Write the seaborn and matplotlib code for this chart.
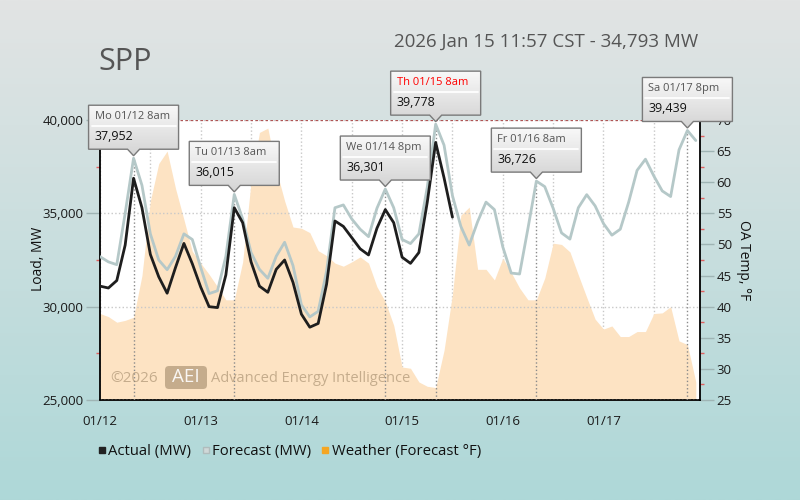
import numpy as np
import pandas as pd
import seaborn as sns
import matplotlib.pyplot as plt
from matplotlib.lines import Line2D
from matplotlib.patches import Polygon, FancyBboxPatch
from matplotlib.ticker import FuncFormatter, MultipleLocator

# values, x = hours since 01/12 00:00
fc_hours = list(range(0, 144, 2))
forecast_mw = [
    32680, 32400, 32250, 35000, 37952, 36500, 33900, 32500, 31980, 32700, 33900, 33600,
    32100, 30700, 30850, 32700, 36015, 34700, 32900, 32000, 31520, 32700, 33450, 32200,
    30100, 29450, 29750, 31900, 35300, 35450, 34700, 34150, 33750, 35270, 36301, 35300,
    33600, 33380, 33900, 36400, 39778, 38650, 35950, 34300, 33300, 34550, 35600, 35200,
    33200, 31800, 31750, 34200, 36726, 36430, 35270, 33950, 33620, 35300, 36000, 35400,
    34450, 33830, 34150, 35600, 37300, 37900, 37000, 36200, 35900, 38400, 39439, 38900,
]
act_hours = list(range(0, 86, 2))
actual_mw = [
    31100, 31000, 31400, 33300, 36880, 35300, 32800, 31600, 30720, 32100, 33390, 32300,
    31050, 30000, 29950, 31700, 35300, 34500, 32400, 31100, 30770, 32000, 32500, 31300,
    29600, 28900, 29100, 31200, 34590, 34300, 33700, 33100, 32770, 34200, 35200, 34500,
    32650, 32320, 32900, 35600, 38800, 36900, 34793,
]
wx_hours = list(range(0, 144, 2))
weather_f = [
    38.9, 38.4, 37.5, 37.8, 38.3, 45.0, 57.0, 63.0, 65.0, 59.0, 54.0, 48.9,
    47.0, 45.2, 43.2, 41.1, 41.1, 47.2, 60.0, 68.0, 68.7, 62.0, 57.0, 52.8,
    52.6, 51.9, 49.0, 48.2, 47.0, 46.5, 47.2, 48.0, 47.0, 43.2, 40.8, 37.0,
    30.3, 30.1, 27.9, 27.2, 27.0, 33.0, 42.0, 54.7, 56.0, 46.0, 46.0, 44.3,
    47.8, 45.5, 43.0, 41.1, 41.1, 44.6, 50.2, 50.0, 48.8, 45.1, 41.5, 38.0,
    36.4, 36.9, 35.2, 35.2, 36.0, 36.0, 38.9, 39.0, 40.0, 34.5, 33.9, 27.9,
]

peak_hours = [8, 32, 68, 80, 104, 140]
peak_mw = [37952, 36015, 36301, 39778, 36726, 39439]
peak_labels = ["Mo 01/12 8am", "Tu 01/13 8am", "We 01/14 8pm",
               "Th 01/15 8am", "Fr 01/16 8am", "Sa 01/17 8pm"]
today = "01/15"
day_ticks = [0, 24, 48, 72, 96, 120]
day_labels = ["01/12", "01/13", "01/14", "01/15", "01/16", "01/17"]

sns.set_theme(style="white")
plt.rcParams["font.family"] = ["Open Sans", "DejaVu Sans"]

fig = plt.figure(figsize=(8, 5), dpi=100)

# page background gradient
bg = fig.add_axes([0, 0, 1, 1], zorder=-10)
c_top = np.array([226, 228, 228]) / 255
c_bot = np.array([174, 216, 216]) / 255
t = np.linspace(0, 1, 256)[:, None]
bg.imshow((c_top * (1 - t) + c_bot * t)[:, None, :], aspect="auto", extent=[0, 1, 0, 1])
bg.axis("off")

# weather axes (right) underneath, load axes (left) on top
ax_w = fig.add_axes([0.125, 0.2, 0.75, 0.56])
ax_l = ax_w.twinx()
ax_w.set_facecolor("white")
ax_w.yaxis.tick_right()
ax_w.yaxis.set_label_position("right")
ax_l.yaxis.tick_left()
ax_l.yaxis.set_label_position("left")

ax_w.fill_between(wx_hours, weather_f, 25, color="#fde3c3", lw=0, zorder=2)
ax_w.set_xlim(0, 143)
ax_w.set_ylim(25, 70)
ax_w.set_xticks(day_ticks, day_labels)
ax_w.xaxis.set_minor_locator(MultipleLocator(12))
ax_w.set_yticks(range(25, 75, 5))
ax_w.yaxis.set_minor_locator(MultipleLocator(2.5))
ax_w.grid(axis="x", which="both", color="#c8c8c8", ls=":", lw=1)
ax_w.set_axisbelow(True)
ax_w.tick_params(axis="x", which="both", length=10, width=1, color="#9fb4b4",
                 labelsize=9.5, labelcolor="#1a1a1a", pad=1)
ax_w.tick_params(axis="y", which="major", length=10, width=1, color="#9fb4b4",
                 labelsize=9.5, labelcolor="#1a1a1a", pad=2)
ax_w.tick_params(axis="y", which="minor", length=3, width=1, color="#e06060")

ax_l.set_ylim(25000, 40000)
ax_l.set_yticks(range(25000, 40001, 5000))
ax_l.yaxis.set_major_formatter(FuncFormatter(lambda v, _: f"{v:,.0f}"))
ax_l.yaxis.set_minor_locator(MultipleLocator(2500))
ax_l.grid(axis="y", which="major", color="#c8c8c8", ls=":", lw=1)
ax_l.tick_params(axis="y", which="major", length=10, width=1, color="#9fb4b4",
                 labelsize=9.5, labelcolor="#1a1a1a", pad=2)
ax_l.tick_params(axis="y", which="minor", length=3, width=1, color="#e06060")
ax_l.axhline(40000, color="#b05555", ls=(0, (2, 2)), lw=0.9, zorder=1)

for sp in ["top", "left"]:
    ax_w.spines[sp].set_visible(False)
for sp in ["top", "right", "bottom"]:
    ax_l.spines[sp].set_visible(False)
for sp in [ax_w.spines["bottom"], ax_w.spines["right"], ax_l.spines["left"]]:
    sp.set_color("black")
    sp.set_linewidth(1.3)

df_fc = pd.DataFrame({"hour": fc_hours, "mw": forecast_mw})
df_act = pd.DataFrame({"hour": act_hours, "mw": actual_mw})
sns.lineplot(data=df_fc, x="hour", y="mw", ax=ax_l, color="#b5c8c8", lw=2.0,
             solid_joinstyle="round", solid_capstyle="round", zorder=3)
sns.lineplot(data=df_act, x="hour", y="mw", ax=ax_l, color="#1e1e1e", lw=2.0,
             solid_joinstyle="round", solid_capstyle="round", zorder=4)
ax_l.set_xlabel("")
ax_l.set_ylabel("")
ax_w.set_xlabel("")
ax_l.set_xlim(0, 143)

for h, v in zip(peak_hours, peak_mw):
    ax_l.plot([h, h], [25000, v], ls=":", color="#8a8a8a", lw=1, zorder=2.5)

# overlay in pixel coordinates for callouts and page text
ov = fig.add_axes([0, 0, 1, 1], zorder=5)
box_grad = np.linspace(np.array([248, 248, 248]), np.array([212, 212, 212]), 64)[:, None, :] / 255

for h, v, lab in zip(peak_hours, peak_mw, peak_labels):
    px, py = ax_l.transData.transform((h, v))
    L, R, B, T = px - 45, px + 45, py + 9, py + 53
    outline = [(L, B), (px - 6, B), (px, py + 2.5), (px + 6, B), (R, B), (R, T), (L, T)]
    poly = Polygon(outline, closed=True, facecolor="none", edgecolor="#7a7a7a", lw=1, zorder=7)
    ov.add_patch(poly)
    im = ov.imshow(box_grad, extent=[L, R, py + 2.5, T], aspect="auto", zorder=6)
    im.set_clip_path(poly)
    ov.plot([L + 3, R - 3], [py + 32, py + 32], color="white", lw=1.3, zorder=8)
    ov.text(L + 6, py + 41.5, lab, fontsize=8, va="center", zorder=9,
            color="red" if today in lab else "#555555")
    ov.text(L + 6, py + 22, f"{v:,}", fontsize=9, va="center", color="#111111", zorder=9)

# watermark
ov.text(110, 122, "\u00a92026", fontsize=11, color="#a08868", alpha=0.6, va="center")
ov.add_patch(FancyBboxPatch((165, 111), 42, 23, boxstyle="round,pad=0,rounding_size=4",
                            fc="#a08868", alpha=0.6, lw=0))
ov.text(186, 122.5, "AEI", color="white", fontsize=13.5, ha="center", va="center", alpha=0.9)
ov.text(211, 122, "Advanced Energy Intelligence", fontsize=10.5, color="#a08868",
        alpha=0.6, va="center")

ov.text(98, 430, "SPP", fontsize=22, color="#555555", va="baseline")
ov.text(698, 453, "2026 Jan 15 11:57 CST - 34,793 MW", fontsize=13.5, color="#555555",
        ha="right", va="baseline")
ov.text(39, 241, "Load, MW", rotation=90, ha="center", va="center", fontsize=10, color="#111111")
ov.text(744, 240, "OA Temp, \u00b0F", rotation=270, ha="center", va="center",
        fontsize=10, color="#111111")
ov.set_xlim(0, 800)
ov.set_ylim(0, 500)
ov.axis("off")

handles = [
    Line2D([], [], marker="s", ls="none", color="#222222", markersize=4.5),
    Line2D([], [], marker="s", ls="none", color="#d0d8d8", markeredgecolor="#b0bcbc", markersize=4.5),
    Line2D([], [], marker="s", ls="none", color="#f5a623", markersize=4.5),
]
fig.legend(handles, ["Actual (MW)", "Forecast (MW)", "Weather (Forecast \u00b0F)"],
           loc="center left", bbox_to_anchor=(98 / 800, 48 / 500), ncol=3, frameon=False,
           handlelength=0.5, handletextpad=0.2, columnspacing=0.7, fontsize=10.7,
           borderaxespad=0, borderpad=0, labelcolor="#111111")

fig.savefig("out.png", dpi=100)
